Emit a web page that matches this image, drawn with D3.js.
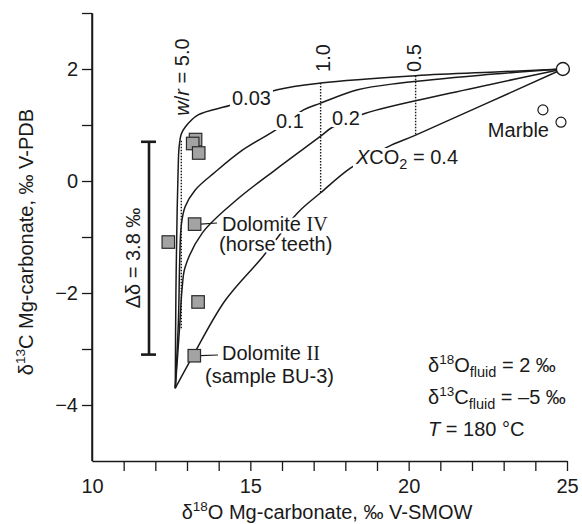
<!DOCTYPE html>
<html>
<head>
<meta charset="utf-8">
<script src="https://cdn.jsdelivr.net/npm/d3@7"></script>
<style>
  body { margin: 0; background: #fff; }
  svg { display: block; font-family: "Liberation Sans", Arial, Helvetica, sans-serif; }
</style>
</head>
<body>
<svg id="chart" width="582" height="524"></svg>
<script>
// ---- axis ticks ----
const xTicks = d3.range(10, 26);
const xTickLabels = [10, 15, 20, 25];
const yTicks = d3.range(-4, 4);
const yTickLabels = [-4, -2, 0, 2];

// ---- calculated mixing curves, points are [δ18O, δ13C] ----
const xco2Labels = ["0.03", "0.1", "0.2", "0.4"];
const curve003 = [[12.63, -3.70], [12.65, -2.0], [12.69, -0.5], [12.72, 0.2], [12.75, 0.6],
  [12.82, 0.84], [12.94, 0.96], [13.35, 1.18], [14.43, 1.36], [15.85, 1.63], [17.22, 1.75],
  [20.22, 1.88], [22.9, 1.95], [24.87, 2.0]];
const curve01 = [[12.63, -3.70], [12.73, -2.48], [12.77, -1.41], [12.82, -0.79], [12.94, -0.46],
  [13.26, -0.16], [13.89, 0.16], [14.75, 0.55], [15.79, 0.91], [16.68, 1.27], [17.22, 1.39],
  [18.39, 1.63], [19.75, 1.75], [22.28, 1.89], [24.87, 2.0]];
const curve02 = [[12.63, -3.70], [12.76, -2.66], [12.85, -1.89], [12.94, -1.54], [13.48, -0.93],
  [14.56, -0.34], [15.79, 0.20], [17.22, 0.80], [17.59, 0.96], [18.64, 1.21], [21.33, 1.57],
  [24.87, 2.0]];
const curve04 = [[12.63, -3.70], [13.20, -3.11], [14.21, -2.13], [15.38, -1.36], [16.49, -0.57],
  [17.22, -0.21], [18.16, 0.23], [19.34, 0.61], [20.22, 0.82], [24.87, 2.0]];

// ---- water/rock isopleths (dotted) ----
const wrLabels = ["5.0", "1.0", "0.5"];
const wrX = [12.82, 17.22, 20.22];
const wrTop = [0.72, 1.75, 1.88];
const wrBottom = [-2.63, -0.21, 0.82];

// ---- samples ----
const dolomiteX = [13.27, 13.18, 13.37, 12.41, 13.24, 13.35, 13.23];
const dolomiteY = [0.74, 0.67, 0.50, -1.09, -0.77, -2.16, -3.12];
const marbleX = [24.24, 24.81];
const marbleY = [1.27, 1.05];
const startX = 24.87, startY = 2.0;

// ---- spread of δ13C ----
const spreadX = 11.8;
const spreadTop = 0.7;
const spreadBottom = -3.1;

// ---- layout ----
const svg = d3.select("#chart");
const x = d3.scaleLinear().domain([10, 25]).range([92, 567]);
const y = d3.scaleLinear().domain([-5, 3]).range([461, 13]);
const ink = "#1a1a1a";
const fs = 20;
const fsSup = 13.5;
const fsSub = 14.5;

// axes
const xAxis = d3.axisBottom(x).tickValues(xTicks).tickSize(10).tickSizeOuter(0).tickPadding(8)
  .tickFormat(d => xTickLabels.includes(d) ? d : "");
const gx = svg.append("g").attr("transform", `translate(0,${y(-5)})`).call(xAxis);
gx.selectAll(".tick").filter(d => d === 10).select("line").remove();

const yAxis = d3.axisLeft(y).tickValues(yTicks).tickSize(10).tickSizeOuter(0).tickPadding(4)
  .tickFormat(d => yTickLabels.includes(d) ? (d < 0 ? "\u2212" + Math.abs(d) : d) : "");
const gy = svg.append("g").attr("transform", `translate(${x(10)},0)`).call(yAxis);

// extend y axis line down to the corner
svg.append("line").attr("x1", x(10)).attr("x2", x(10)).attr("y1", y(-5)).attr("y2", y(3))
  .attr("stroke", ink).attr("stroke-width", 1.5);
[gx, gy].forEach(g => {
  g.select(".domain").attr("stroke", ink).attr("stroke-width", 1.5);
  g.selectAll(".tick line").attr("stroke", ink).attr("stroke-width", 1.3);
  g.selectAll(".tick text").attr("font-size", fs).attr("fill", ink)
    .attr("font-family", '"Liberation Sans", Arial, sans-serif');
});

// axis titles
const yTitle = svg.append("text").attr("transform", `translate(33,242) rotate(-90)`)
  .attr("text-anchor", "middle").attr("font-size", fs).attr("fill", ink);
yTitle.append("tspan").text("\u03b4");
yTitle.append("tspan").attr("font-size", fsSup).attr("dy", -8).text("13");
yTitle.append("tspan").attr("dy", 8).text("C Mg-carbonate, \u2030 V-PDB");

const xTitle = svg.append("text").attr("x", 327).attr("y", 519)
  .attr("text-anchor", "middle").attr("font-size", fs).attr("fill", ink);
xTitle.append("tspan").text("\u03b4");
xTitle.append("tspan").attr("font-size", fsSup).attr("dy", -8).text("18");
xTitle.append("tspan").attr("dy", 8).text("O Mg-carbonate, \u2030 V-SMOW");

// dotted isopleths
wrX.forEach((wx, i) => {
  svg.append("line").attr("x1", x(wx)).attr("x2", x(wx))
    .attr("y1", y(wrTop[i])).attr("y2", y(wrBottom[i]))
    .attr("stroke", ink).attr("stroke-width", 1.4).attr("stroke-dasharray", "1.5,1.5");
});

// mixing curves
const line = d3.line().x(d => x(d[0])).y(d => y(d[1])).curve(d3.curveCatmullRom.alpha(0.5));
[curve003, curve01, curve02, curve04].forEach(c => {
  svg.append("path").attr("d", line(c)).attr("fill", "none")
    .attr("stroke", ink).attr("stroke-width", 1.5);
});

// curve labels sit in a break of the line
function boxedLabel(px, py, build) {
  const g = svg.append("g");
  const t = g.append("text").attr("x", px).attr("y", py).attr("font-size", fs).attr("fill", ink);
  build(t);
  const b = t.node().getBBox();
  g.insert("rect", "text").attr("x", b.x - 2).attr("y", b.y + 2)
    .attr("width", b.width + 4).attr("height", b.height - 4).attr("fill", "#fff");
  return t;
}
boxedLabel(232, 105, t => t.text(xco2Labels[0]));
boxedLabel(276, 128, t => t.text(xco2Labels[1]));
boxedLabel(332, 125, t => t.text(xco2Labels[2]));
boxedLabel(356, 164, t => {
  t.append("tspan").attr("font-style", "italic").text("X");
  t.append("tspan").text("CO");
  t.append("tspan").attr("font-size", fsSub).attr("dy", 5).text("2");
  t.append("tspan").attr("dy", -5).text(" = " + xco2Labels[3]);
});

// isopleth labels (rotated)
function rotLabel(px, py, build) {
  const t = svg.append("text").attr("transform", `translate(${px},${py}) rotate(-90)`)
    .attr("text-anchor", "middle").attr("dy", "0.35em").attr("font-size", fs).attr("fill", ink);
  build(t);
}
rotLabel(182, 77, t => {
  t.append("tspan").attr("font-style", "italic").text("w");
  t.append("tspan").text("/");
  t.append("tspan").attr("font-style", "italic").text("r");
  t.append("tspan").text(" = " + wrLabels[0]);
});
rotLabel(x(wrX[1]) + 2, 58, t => t.text(wrLabels[1]));
rotLabel(x(wrX[2]) - 2, 58, t => t.text(wrLabels[2]));

// spread bar
svg.append("line").attr("x1", x(spreadX)).attr("x2", x(spreadX))
  .attr("y1", y(spreadTop)).attr("y2", y(spreadBottom)).attr("stroke", ink).attr("stroke-width", 2.6);
[spreadTop, spreadBottom].forEach(v => {
  svg.append("line").attr("x1", x(spreadX) - 8).attr("x2", x(spreadX) + 7)
    .attr("y1", y(v)).attr("y2", y(v)).attr("stroke", ink).attr("stroke-width", 2.6);
});
rotLabel(133, 258,
  t => t.text("\u0394\u03b4 = " + (spreadTop - spreadBottom).toFixed(1) + " \u2030"));

// sample labels with halo so curves break around them
function haloText(px, py, build) {
  const t = svg.append("text").attr("x", px).attr("y", py).attr("font-size", fs).attr("fill", ink)
    .attr("stroke", "#fff").attr("stroke-width", 5).attr("paint-order", "stroke")
    .attr("stroke-linejoin", "round");
  build(t);
}
haloText(222, 231, t => {
  t.append("tspan").text("Dolomite ");
  t.append("tspan").attr("font-family", '"Liberation Serif", "Times New Roman", serif').text("IV");
});
haloText(219, 251, t => t.text("(horse teeth)"));
haloText(222, 360, t => {
  t.append("tspan").text("Dolomite ");
  t.append("tspan").attr("font-family", '"Liberation Serif", "Times New Roman", serif').text("II");
});
haloText(205, 383, t => t.text("(sample BU-3)"));

// leaders from samples to labels
svg.append("line").attr("x1", x(dolomiteX[4]) + 6).attr("y1", y(dolomiteY[4]))
  .attr("x2", 217).attr("y2", 223).attr("stroke", ink).attr("stroke-width", 1.2);
svg.append("line").attr("x1", x(dolomiteX[6]) + 6).attr("y1", y(dolomiteY[6]))
  .attr("x2", 218).attr("y2", 355).attr("stroke", ink).attr("stroke-width", 1.2);

// dolomite samples
const sq = 12.5;
dolomiteX.forEach((dx, i) => {
  svg.append("rect").attr("x", x(dx) - sq / 2).attr("y", y(dolomiteY[i]) - sq / 2)
    .attr("width", sq).attr("height", sq).attr("fill", "#a3a3a3")
    .attr("stroke", "#2a2a2a").attr("stroke-width", 1.2);
});

// marble and starting composition
marbleX.forEach((mx, i) => {
  svg.append("circle").attr("cx", x(mx)).attr("cy", y(marbleY[i])).attr("r", 5)
    .attr("fill", "#fff").attr("stroke", ink).attr("stroke-width", 1.2);
});
svg.append("circle").attr("cx", x(startX)).attr("cy", y(startY)).attr("r", 6.5)
  .attr("fill", "#fff").attr("stroke", ink).attr("stroke-width", 1.4);
svg.append("text").attr("x", 549).attr("y", 137).attr("text-anchor", "end")
  .attr("font-size", fs).attr("fill", ink).text("Marble");

// model conditions
const cond = svg.append("g").attr("font-size", fs).attr("fill", ink);
const c1 = cond.append("text").attr("x", 428).attr("y", 372);
c1.append("tspan").text("\u03b4");
c1.append("tspan").attr("font-size", fsSup).attr("dy", -8).text("18");
c1.append("tspan").attr("dy", 8).text("O");
c1.append("tspan").attr("font-size", fsSub).attr("dy", 5).text("fluid");
c1.append("tspan").attr("dy", -5).text(" = 2 \u2030");
const c2 = cond.append("text").attr("x", 428).attr("y", 404);
c2.append("tspan").text("\u03b4");
c2.append("tspan").attr("font-size", fsSup).attr("dy", -8).text("13");
c2.append("tspan").attr("dy", 8).text("C");
c2.append("tspan").attr("font-size", fsSub).attr("dy", 5).text("fluid");
c2.append("tspan").attr("dy", -5).text(" = \u20135 \u2030");
const c3 = cond.append("text").attr("x", 428).attr("y", 436);
c3.append("tspan").attr("font-style", "italic").text("T");
c3.append("tspan").text(" = 180 \u00b0C");
</script>
</body>
</html>
